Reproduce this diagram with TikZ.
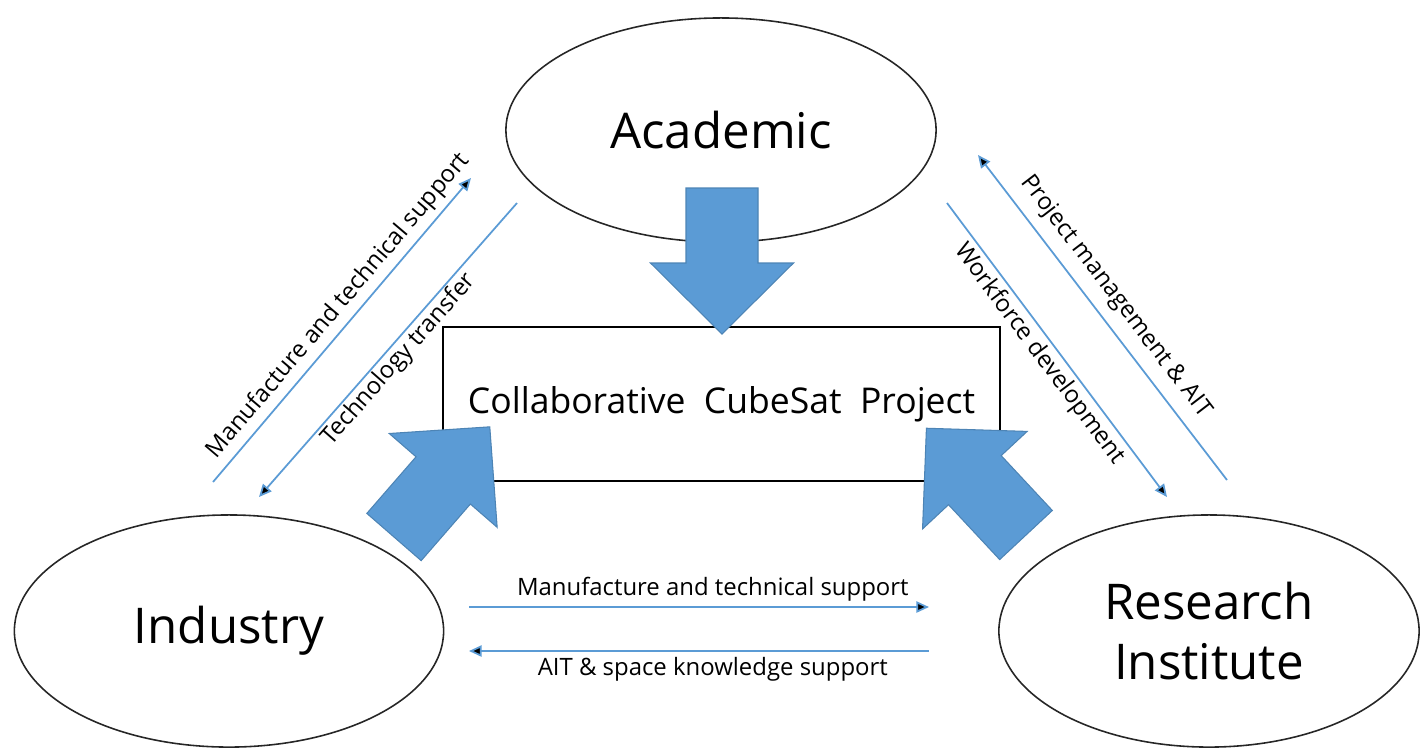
\documentclass[tikz,border=0pt]{standalone}
\usepackage{fontspec}
\setmainfont{Open Sans}
\usetikzlibrary{shapes.geometric,arrows.meta}
\definecolor{cubeblue}{HTML}{5B9BD5}

\begin{document}
\begin{tikzpicture}
                [x=0.01cm,y=-0.01cm,>={Triangle[length=3.6pt,width=3.2pt]},
                party/.style={ellipse,draw=black!85,line width=0.45pt,inner sep=0pt,
                  font=\fontsize{14}{17}\selectfont,align=center},
                flow/.style={draw=cubeblue,line width=0.5pt},
                lab/.style={font=\fontsize{6.8}{8}\selectfont,inner sep=1.5pt},
                blockarrow/.pic={\filldraw[fill=cubeblue,draw=cubeblue!85!black,line width=0.3pt]
                  (0,-36)--(75,-36)--(75,-71.5)--(146,0)--(75,71.5)--(75,36)--(0,36)--cycle;}]
                \useasboundingbox (0,0) rectangle (1420,747);
                \node[party,minimum width=4.3cm,minimum height=2.24cm] (acad) at (721,130){Academic};
                \node[party,minimum width=4.29cm,minimum height=2.32cm] (ind) at (229,631){Industry};
                \node[party,minimum width=4.2cm,minimum height=2.32cm] (res) at (1209,631){Research\\Institute};
                \node[draw,line width=0.45pt,minimum width=5.57cm,minimum height=1.54cm,
                  font=\fontsize{10.1}{12}\selectfont] (proj) at (721.5,404){Collaborative~ CubeSat~ Project};
                % big arrows into the project
                \coordinate (acadin) at (722,188);
                \coordinate (indin) at (394,537);
                \coordinate (resin) at (1026,535);
                \pic[rotate=-90] at (acadin) {blockarrow};
                \pic[rotate=49] at (indin) {blockarrow};
                \pic[rotate=133] at (resin) {blockarrow};
                % exchanges
                \coordinate (ia1) at (213,482);
                \coordinate (ia2) at (471,178);
                \coordinate (ai1) at (517,203);
                \coordinate (ai2) at (259,497);
                \coordinate (ra1) at (1227,480);
                \coordinate (ra2) at (978,155);
                \coordinate (ar1) at (947,203);
                \coordinate (ar2) at (1167,497);
                \coordinate (ir1) at (469,607);
                \coordinate (ir2) at (929,607);
                \coordinate (ri1) at (929,651);
                \coordinate (ri2) at (469,651);
                \path[flow](ia1) edge[->] node[lab,above,sloped,pos=0.54]{Manufacture and technical support}(ia2)
                        (ai2) edge[<-] node[lab,below,sloped,pos=0.5,inner sep=0.5pt]{Technology transfer}(ai1)
                        (ra2) edge[<-] node[lab,above,sloped,pos=0.48,inner sep=3pt]{Project management \& AIT}(ra1)
                        (ar1) edge[->] node[lab,below,sloped,pos=0.48,inner sep=1pt]{Workforce development}(ar2)
                        (ir1) edge[->] node[lab,above,pos=0.53]{Manufacture and technical support}(ir2)
                        (ri2) edge[<-] node[lab,below,pos=0.53]{AIT \& space knowledge support}(ri1);
            \end{tikzpicture}
\end{document}
